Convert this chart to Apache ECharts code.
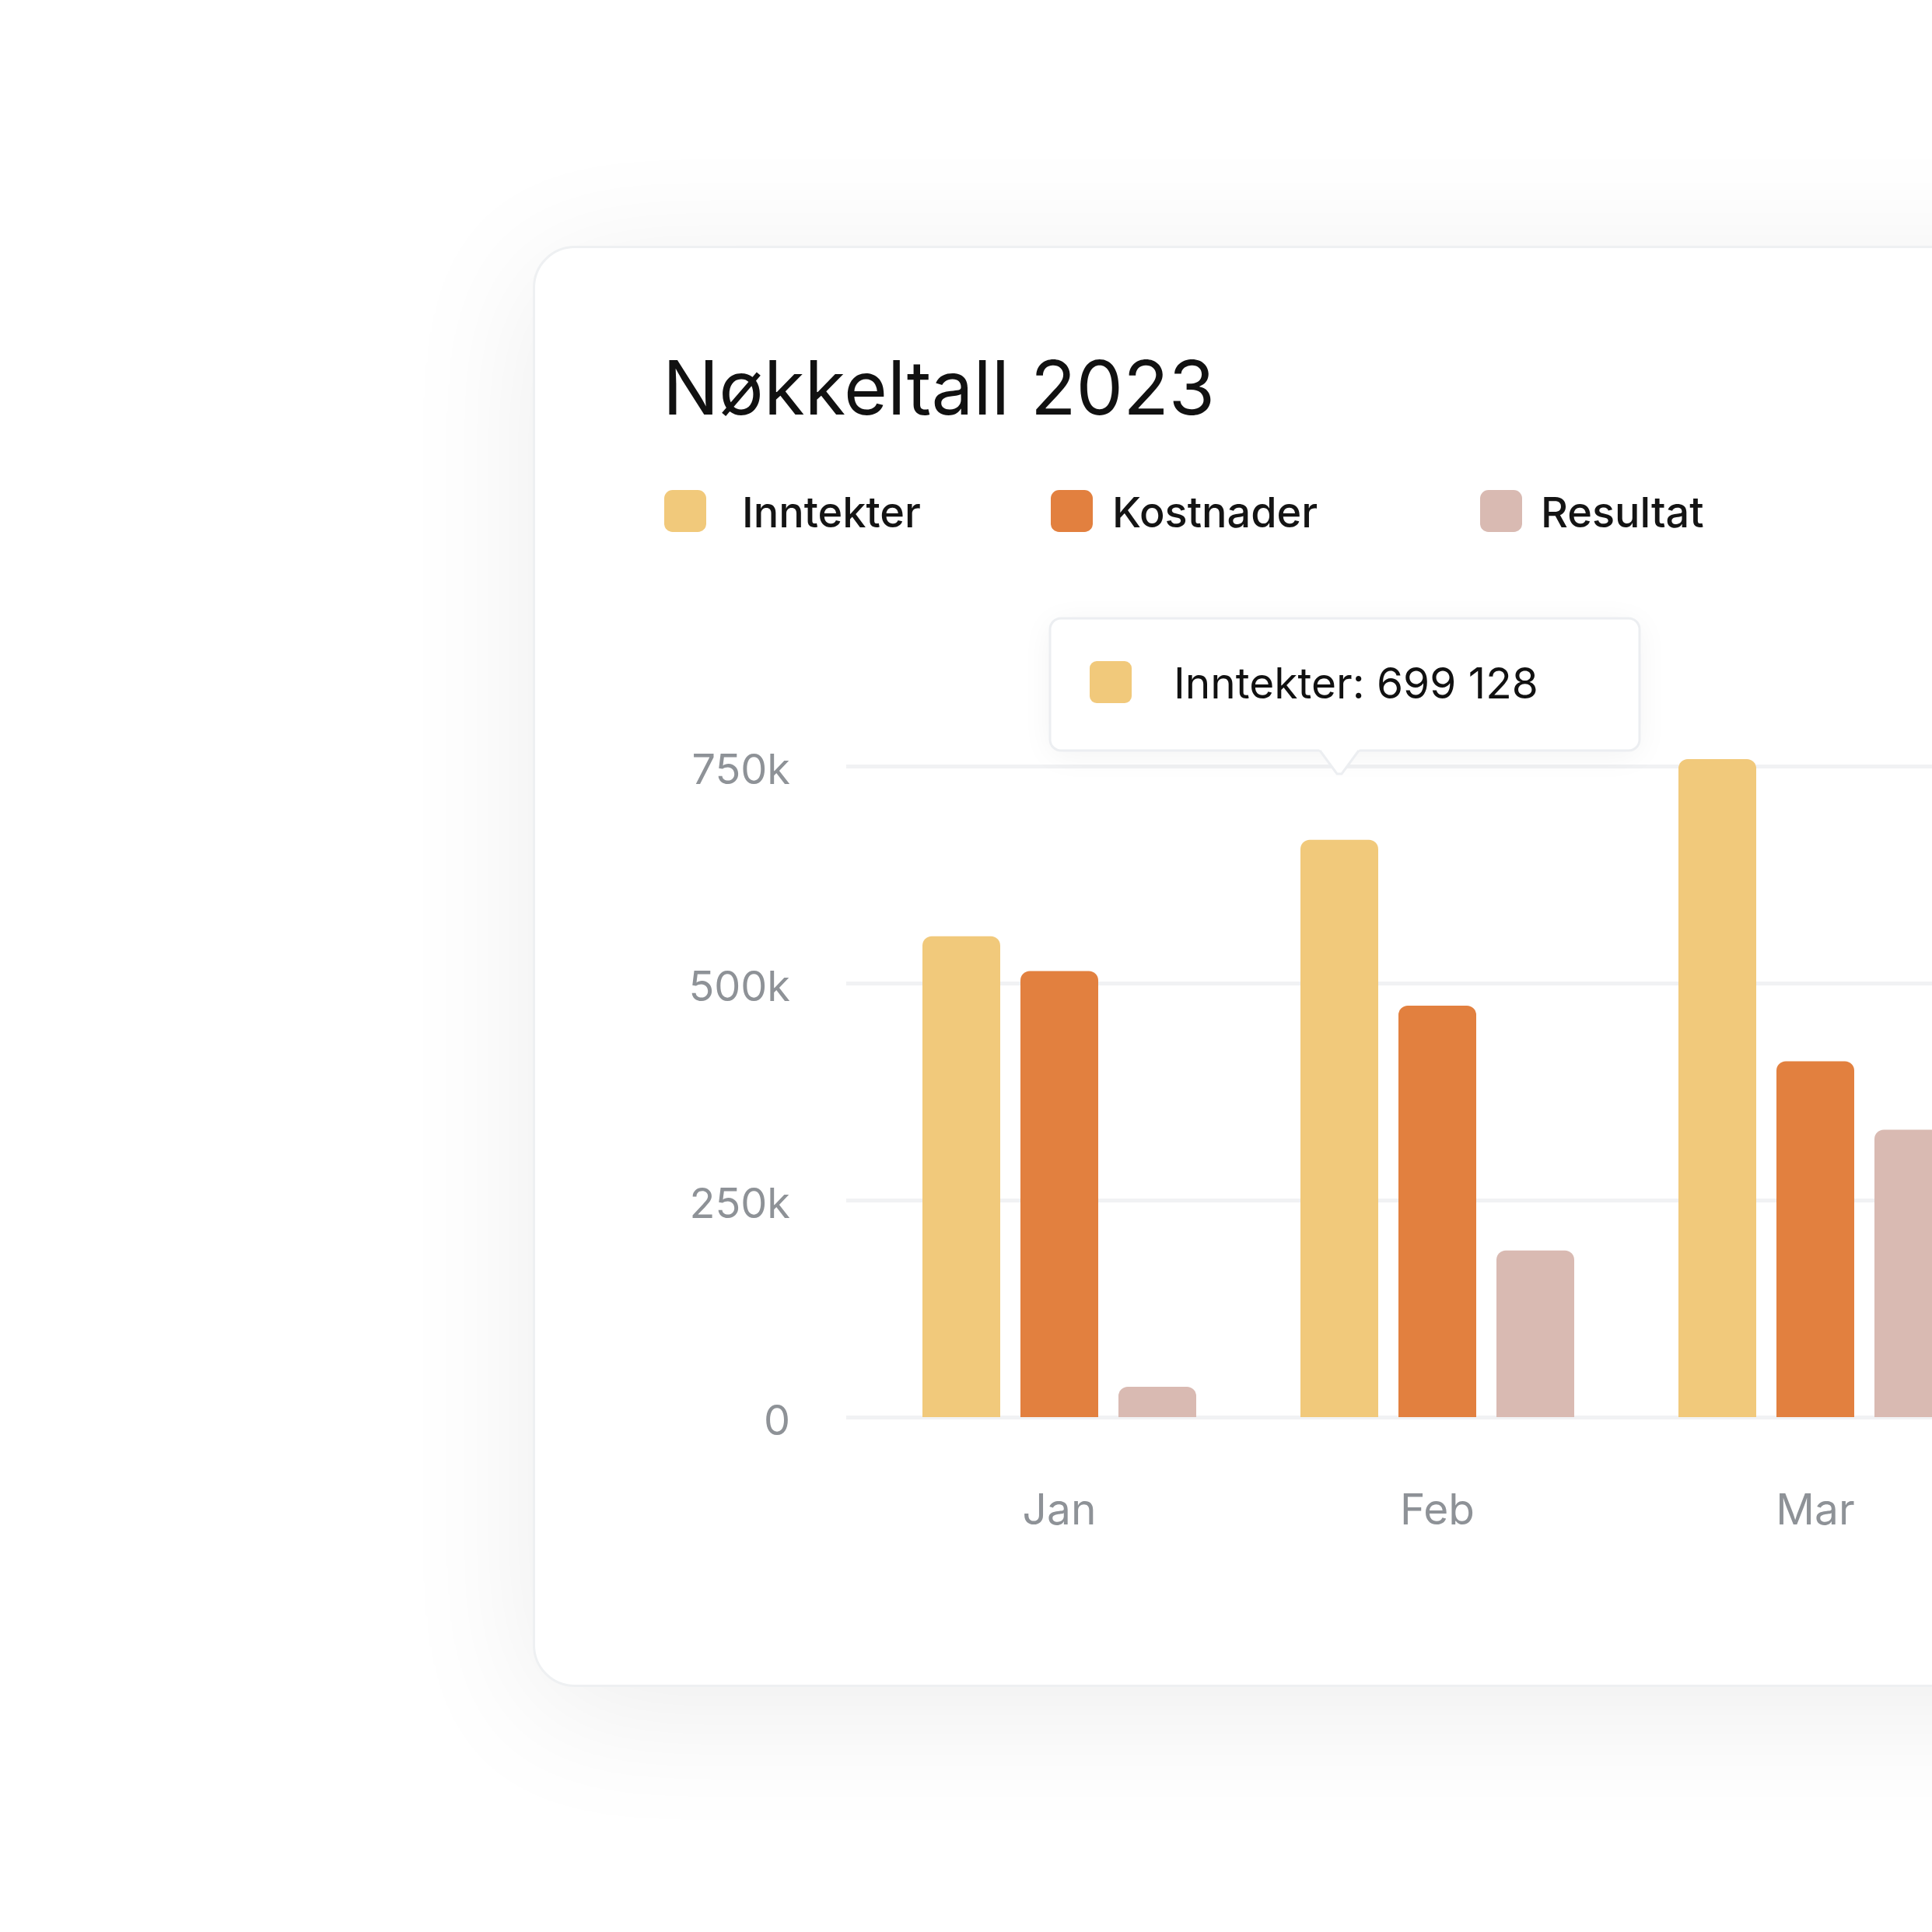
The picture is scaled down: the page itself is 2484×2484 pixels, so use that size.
<!DOCTYPE html>
<html><head><meta charset="utf-8">
<script src="https://cdn.jsdelivr.net/npm/echarts@6/dist/echarts.min.js"></script>
<style>
html,body{margin:0;padding:0;width:2484px;height:2484px;overflow:hidden;background:#ffffff;}
#card{position:absolute;left:685px;top:316px;width:2100px;height:1853px;box-sizing:border-box;background:#fff;border:3px solid #eef0f2;border-radius:54px;box-shadow:0 30px 180px rgba(0,0,0,0.075);}
#chart{position:absolute;left:0;top:0;width:2800px;height:2484px;}
</style></head><body>
<div id="card"></div><div id="chart"></div>
<script>
const titleText = 'Nøkkeltall 2023';
const categories = ['Jan', 'Feb', 'Mar'];
const seriesNames = ['Inntekter', 'Kostnader', 'Resultat'];
const inntekter = [554000, 665000, 758000];
const kostnader = [514000, 474000, 410000];
const resultat = [35000, 192000, 331000];
const yMin = 0, yMax = 750000, yStep = 250000;
const tooltipSeriesIndex = 0;
const tooltipCategory = 'Feb';
const tooltipText = 'Inntekter: 699 128';
const colors = ['#F1C97B', '#E2803F', '#D9BAB2'];

const FONT = 'Inter';
const BAR_W = 100;
const BAR_GAP_PCT = 26;
const CW = 2800;
const chart = echarts.init(document.getElementById('chart'), null, {renderer: 'canvas'});

const roundIcon = 'path://M2,0 H8 A2,2 0 0 1 10,2 V8 A2,2 0 0 1 8,10 H2 A2,2 0 0 1 0,8 V2 A2,2 0 0 1 2,0 Z';
function legendFor(i, left, padLeft) {
  return {
    data: [seriesNames[i]], left: left, top: 630, padding: 0,
    itemWidth: 54, itemHeight: 54, icon: roundIcon, selectedMode: false,
    formatter: n => '{t|' + n + '}',
    textStyle: {fontFamily: FONT, fontSize: 54, fontWeight: 500, color: '#141414',
      rich: {t: {fontFamily: FONT, fontSize: 54, fontWeight: 500, color: '#141414', padding: [10, 0, 0, padLeft]}}}
  };
}
const seriesData = [inntekter, kostnader, resultat];
const yLabel = v => v === 0 ? '0' : (v / 1000) + 'k';
const option = {
  animation: false,
  backgroundColor: 'transparent',
  title: {text: titleText, left: 852, top: 456, padding: 0,
    textStyle: {fontFamily: FONT, fontSize: 96, fontWeight: 400, color: '#111111'}},
  legend: [legendFor(0, 854, 41), legendFor(1, 1351, 20), legendFor(2, 1903, 19)],
  grid: [
    {left: 1119, right: CW - 2577, top: 985, bottom: 2484 - 1822},
    {left: 1088, right: 0, top: 985, bottom: 2484 - 1822},
    {left: 1088, right: 0, top: 985 + 7, bottom: 2484 - 1822 - 7}
  ],
  xAxis: [
    {type: 'category', gridIndex: 0, data: categories, boundaryGap: true,
      axisLine: {show: false}, axisTick: {show: false}, splitLine: {show: false},
      axisLabel: {margin: 94, fontFamily: FONT, fontSize: 55, color: '#8E9297'}},
    {type: 'value', gridIndex: 1, min: 0, max: 1, show: false},
    {type: 'value', gridIndex: 2, min: 0, max: 1, show: false}
  ],
  yAxis: [
    {type: 'value', gridIndex: 0, min: yMin, max: yMax, interval: yStep, show: false},
    {type: 'value', gridIndex: 1, min: yMin, max: yMax, interval: yStep,
      axisLine: {show: false}, axisTick: {show: false}, axisLabel: {show: false},
      splitLine: {show: true, lineStyle: {color: '#F1F2F4', width: 5}}},
    {type: 'value', gridIndex: 2, min: yMin, max: yMax, interval: yStep,
      axisLine: {show: false}, axisTick: {show: false}, splitLine: {show: false},
      axisLabel: {margin: 72, fontFamily: FONT, fontSize: 54, color: '#8E9297', formatter: yLabel}}
  ],
  series: seriesData.map((d, i) => ({
    name: seriesNames[i], type: 'bar', xAxisIndex: 0, yAxisIndex: 0,
    data: d, barWidth: BAR_W, barGap: BAR_GAP_PCT + '%', clip: false,
    itemStyle: {color: colors[i], borderRadius: [12, 12, 0, 0]}
  }))
};
chart.setOption(option);

// tooltip-like annotation anchored to the Feb / Inntekter bar
const catX = chart.convertToPixel({xAxisIndex: 0}, tooltipCategory);
const gapPx = BAR_W * BAR_GAP_PCT / 100;
const total = seriesNames.length * BAR_W + (seriesNames.length - 1) * gapPx;
const ax = catX - total / 2 + BAR_W / 2 + tooltipSeriesIndex * (BAR_W + gapPx);
const BW = 758, BH = 170, T = 795;
const L = ax - 372;
chart.setOption({
  graphic: [
    {type: 'rect', z: 100, shape: {x: L, y: T, width: BW, height: BH, r: 14},
      style: {fill: '#fff', stroke: '#ECEEF1', lineWidth: 3, shadowBlur: 40, shadowColor: 'rgba(0,0,0,0.05)', shadowOffsetY: 6}},
    {type: 'polygon', z: 101, shape: {points: [[ax - 27, T + BH - 3], [ax + 27, T + BH - 3], [ax, T + BH + 32]]},
      style: {fill: '#fff'}},
    {type: 'polyline', z: 102, shape: {points: [[ax - 25, T + BH], [ax - 3, T + BH + 30], [ax + 3, T + BH + 30], [ax + 25, T + BH]]},
      style: {stroke: '#ECEEF1', lineWidth: 3, fill: null}},
    {type: 'rect', z: 103, shape: {x: L + 51, y: T + 55, width: 54, height: 54, r: 9},
      style: {fill: colors[tooltipSeriesIndex]}},
    {type: 'text', z: 103, x: L + 159, y: T + 86,
      style: {text: tooltipText, fontFamily: FONT, fontSize: 55, fontWeight: 400, fill: '#111111', align: 'left', verticalAlign: 'middle'}}
  ]
});
</script>
</body></html>
